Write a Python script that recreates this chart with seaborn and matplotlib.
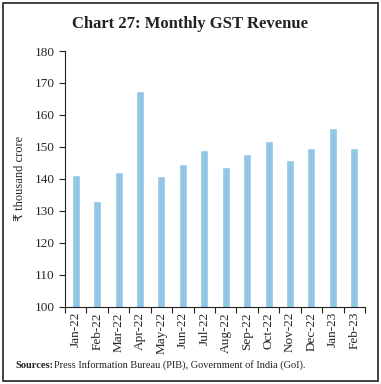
import matplotlib
matplotlib.use("Agg")
import matplotlib.pyplot as plt
import matplotlib.patches as mpatches
import numpy as np
import pandas as pd
import seaborn as sns

months = ["Jan-22", "Feb-22", "Mar-22", "Apr-22", "May-22", "Jun-22", "Jul-22",
          "Aug-22", "Sep-22", "Oct-22", "Nov-22", "Dec-22", "Jan-23", "Feb-23"]
revenue = [141.3, 133.0, 142.1, 167.5, 140.9, 144.6, 148.9,
           143.6, 147.7, 151.7, 145.9, 149.5, 155.9, 149.6]
y_ticks = [100, 110, 120, 130, 140, 150, 160, 170, 180]

sns.set_style("ticks")
plt.rcParams["font.family"] = ["Liberation Serif", "DejaVu Serif"]

df = pd.DataFrame({"month": months, "revenue": revenue})

fig = plt.figure(figsize=(3.81, 3.84), dpi=100)
ax = fig.add_axes([65 / 381, 1 - 306.5 / 384, 300 / 381, 255.5 / 384])

sns.barplot(data=df, x="month", y="revenue", color="#92C5E6", saturation=1,
            width=0.38, ax=ax)

ax.set_ylim(100, 180)
ax.set_yticks(y_ticks)
ax.set_xlim(-0.5, len(months) - 0.5)
ax.set_xlabel("")
ax.set_ylabel("₹ thousand crore", fontsize=9, labelpad=6,
              family=["Liberation Serif", "DejaVu Sans"])
ax.tick_params(axis="y", labelsize=9.5, length=4, width=0.8, color="#222222")
ax.tick_params(axis="x", which="major", labelsize=9.5, length=0, rotation=90, pad=4)
ax.set_xticks(np.arange(-0.5, len(months) + 0.5, 1), minor=True)
ax.tick_params(axis="x", which="minor", length=4, width=0.8, color="#222222")
sns.despine(ax=ax)
for s in ["left", "bottom"]:
    ax.spines[s].set_linewidth(0.8)
    ax.spines[s].set_color("#222222")

fig.text(0.5, 1 - 24 / 384, "Chart 27: Monthly GST Revenue", ha="center",
         va="center", fontsize=12, fontweight="bold", color="#222222")
fig.text(15 / 381, 1 - 365 / 384, "Sources:", fontsize=7.5, fontweight="bold",
         va="center", color="#222222")
fig.text(54 / 381, 1 - 365 / 384,
         "Press Information Bureau (PIB), Government of India (GoI).",
         fontsize=7.5, va="center", color="#222222")

fig.patches.append(mpatches.Rectangle((3 / 381, 3 / 384), 375 / 381, 378 / 384,
                                      transform=fig.transFigure, fill=False,
                                      edgecolor="#222222", linewidth=1.2))

fig.savefig("out.png", dpi=100)
